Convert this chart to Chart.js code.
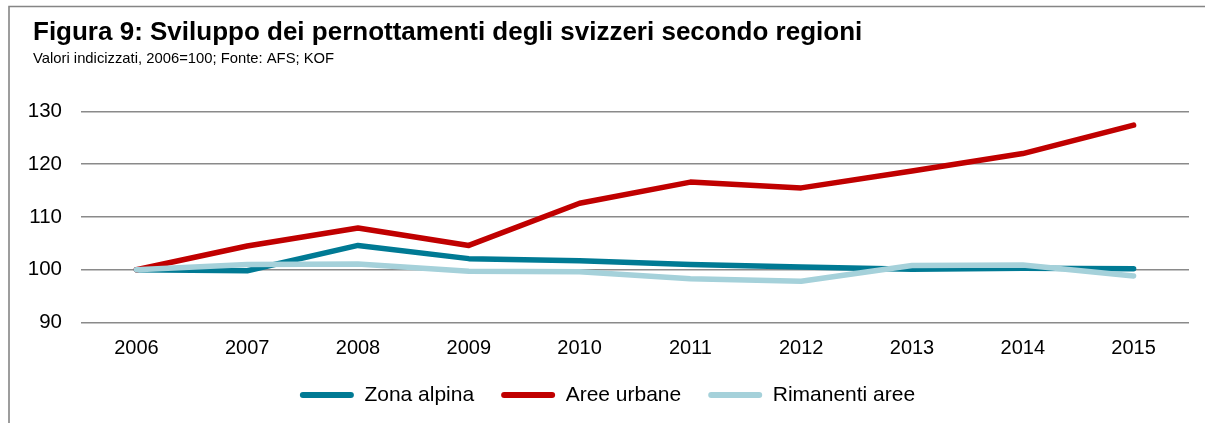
<!DOCTYPE html>
<html>
<head>
<meta charset="utf-8">
<script src="https://cdn.jsdelivr.net/npm/chart.js@4"></script>
<style>
  html, body { margin: 0; padding: 0; background: #fff; }
  #wrap { position: relative; width: 1205px; height: 423px; }
</style>
</head>
<body>
<div id="wrap"><canvas id="c" width="1205" height="423"></canvas></div>
<script>
const years = ['2006','2007','2008','2009','2010','2011','2012','2013','2014','2015'];
const zonaAlpina    = [100, 99.8, 104.6, 102.1, 101.7, 101.0, 100.5, 100.1, 100.3, 100.2];
const areeUrbane    = [100, 104.5, 107.9, 104.6, 112.6, 116.6, 115.5, 118.7, 122.0, 127.4];
const rimanentiAree = [100, 101.0, 101.1, 99.7, 99.6, 98.3, 97.8, 100.8, 100.9, 98.8];
const seriesNames = ['Zona alpina', 'Aree urbane', 'Rimanenti aree'];
const yTicks = [90, 100, 110, 120, 130];
const titleText = 'Figura 9: Sviluppo dei pernottamenti degli svizzeri secondo regioni';
const subtitleText = 'Valori indicizzati, 2006=100; Fonte: AFS; KOF';

const colors = ['#007a94', '#c00000', '#a5d1da'];
const FONT = "'Liberation Sans', Arial, sans-serif";

const framePlugin = {
  id: 'frame',
  afterLayout(chart) {
    chart.boxes.forEach(b => {
      if (b.position === 'top' && b.options && (b.options.text === titleText || b.options.text === subtitleText)) {
        b.left += 7;
        b.right += 7;
      }
    });
  },
  beforeDraw(chart) {
    const ctx = chart.ctx;
    ctx.save();
    ctx.strokeStyle = '#858585';
    ctx.lineWidth = 1.6;
    ctx.beginPath();
    ctx.moveTo(9, 423);
    ctx.lineTo(9, 6.5);
    ctx.lineTo(1205, 6.5);
    ctx.stroke();
    ctx.restore();
  }
};

function ds(i, data, order) {
  return {
    label: seriesNames[i],
    data: data,
    borderColor: colors[i],
    backgroundColor: colors[i],
    borderWidth: 5.5,
    pointRadius: 0,
    pointHoverRadius: 0,
    tension: 0,
    borderCapStyle: 'round',
    borderJoinStyle: 'round',
    fill: false,
    order: order
  };
}

new Chart(document.getElementById('c'), {
  type: 'line',
  data: {
    labels: years,
    datasets: [
      ds(0, zonaAlpina, 2),
      ds(1, areeUrbane, 1),
      ds(2, rimanentiAree, 0)
    ]
  },
  plugins: [framePlugin],
  options: {
    responsive: false,
    animation: false,
    layout: { padding: { left: 26, right: 16, top: 0, bottom: 7.5 } },
    plugins: {
      tooltip: { enabled: false },
      title: {
        display: true,
        text: titleText,
        align: 'start',
        color: '#000',
        font: { family: FONT, size: 26, weight: 'bold', lineHeight: 1.1 },
        padding: { top: 19, bottom: 0 }
      },
      subtitle: {
        display: true,
        text: subtitleText,
        align: 'start',
        color: '#000',
        font: { family: FONT, size: 14.8, lineHeight: 1.2 },
        padding: { top: 2, bottom: 44 }
      },
      legend: {
        display: true,
        position: 'bottom',
        align: 'center',
        labels: {
          color: '#000',
          font: { family: FONT, size: 21 },
          boxWidth: 54,
          boxHeight: 6,
          padding: 27,
          useBorderRadius: true,
          borderRadius: 3,
          generateLabels(chart) {
            return chart.data.datasets.map((d, i) => ({
              text: d.label,
              fillStyle: d.borderColor,
              strokeStyle: d.borderColor,
              lineWidth: 0,
              borderRadius: 3,
              datasetIndex: i,
              hidden: false,
              fontColor: '#000'
            }));
          }
        }
      }
    },
    scales: {
      x: {
        offset: true,
        grid: { display: false, drawTicks: false },
        border: { display: false },
        afterFit(scale) { scale.height = 35; },
        ticks: {
          color: '#000',
          font: { family: FONT, size: 20, lineHeight: 1 },
          padding: 16,
          maxRotation: 0
        }
      },
      y: {
        min: 90,
        max: 130,
        afterBuildTicks(scale) { scale.ticks = yTicks.map(v => ({ value: v })); },
        afterFit(scale) { scale.width = 55; },
        grid: { color: '#8a8a8a', lineWidth: 1.6, drawTicks: false },
        border: { display: false },
        ticks: {
          color: '#000',
          font: { family: FONT, size: 20.5 },
          padding: 19
        }
      }
    }
  }
});
</script>
</body>
</html>
